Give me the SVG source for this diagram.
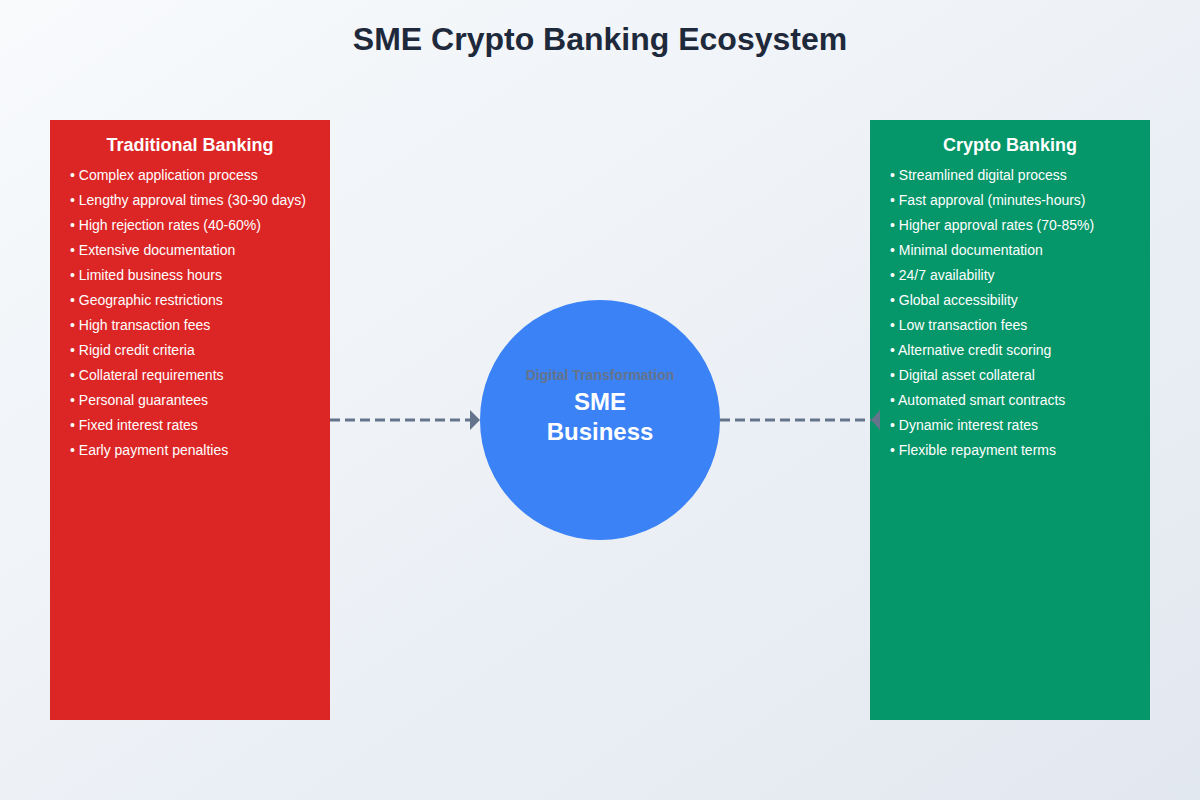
<svg xmlns="http://www.w3.org/2000/svg" width="1200" height="800" viewBox="0 0 1200 800">
<defs>
<linearGradient id="bg" x1="0" y1="0" x2="1" y2="1">
<stop offset="0" stop-color="#f8fafc"/>
<stop offset="1" stop-color="#e2e8f0"/>
</linearGradient>
<marker id="arr" viewBox="0 0 10 20" refX="10" refY="10" markerWidth="10" markerHeight="20" markerUnits="userSpaceOnUse" orient="auto">
<path d="M0,0 L10,10 L0,20 Z" fill="#64748b"/>
</marker>
<style>
text{font-family:"Liberation Sans",Arial,sans-serif}
.title{font-size:32px;font-weight:bold;fill:#1e293b}
.hdr{font-size:18px;font-weight:bold;fill:#fff}
.item{font-size:14px;fill:#fff}
.conn{stroke:#64748b;stroke-width:3;stroke-dasharray:10,5;fill:none}
</style>
</defs>
<rect width="1200" height="800" fill="url(#bg)"/>
<text class="title" x="600" y="50" text-anchor="middle">SME Crypto Banking Ecosystem</text>
<g id="traditional">
<rect x="50" y="120" width="280" height="600" fill="#dc2626"/>
<text class="hdr" x="190" y="151" text-anchor="middle">Traditional Banking</text>
<text class="item" x="70" y="180">• Complex application process</text>
<text class="item" x="70" y="205">• Lengthy approval times (30-90 days)</text>
<text class="item" x="70" y="230">• High rejection rates (40-60%)</text>
<text class="item" x="70" y="255">• Extensive documentation</text>
<text class="item" x="70" y="280">• Limited business hours</text>
<text class="item" x="70" y="305">• Geographic restrictions</text>
<text class="item" x="70" y="330">• High transaction fees</text>
<text class="item" x="70" y="355">• Rigid credit criteria</text>
<text class="item" x="70" y="380">• Collateral requirements</text>
<text class="item" x="70" y="405">• Personal guarantees</text>
<text class="item" x="70" y="430">• Fixed interest rates</text>
<text class="item" x="70" y="455">• Early payment penalties</text>
</g>
<g id="crypto">
<rect x="870" y="120" width="280" height="600" fill="#059669"/>
<text class="hdr" x="1010" y="151" text-anchor="middle">Crypto Banking</text>
<text class="item" x="890" y="180">• Streamlined digital process</text>
<text class="item" x="890" y="205">• Fast approval (minutes-hours)</text>
<text class="item" x="890" y="230">• Higher approval rates (70-85%)</text>
<text class="item" x="890" y="255">• Minimal documentation</text>
<text class="item" x="890" y="280">• 24/7 availability</text>
<text class="item" x="890" y="305">• Global accessibility</text>
<text class="item" x="890" y="330">• Low transaction fees</text>
<text class="item" x="890" y="355">• Alternative credit scoring</text>
<text class="item" x="890" y="380">• Digital asset collateral</text>
<text class="item" x="890" y="405">• Automated smart contracts</text>
<text class="item" x="890" y="430">• Dynamic interest rates</text>
<text class="item" x="890" y="455">• Flexible repayment terms</text>
</g>
<g id="sme">
<circle cx="600" cy="420" r="120" fill="#3b82f6"/>
<text x="600" y="380" text-anchor="middle" font-size="14" font-weight="bold" fill="#64748b">Digital Transformation</text>
<text x="600" y="410" text-anchor="middle" font-size="24" font-weight="bold" fill="#fff">SME</text>
<text x="600" y="440" text-anchor="middle" font-size="24" font-weight="bold" fill="#fff">Business</text>
</g>
<g id="connectors">
<line class="conn" x1="330" y1="420" x2="480" y2="420" marker-end="url(#arr)"/>
<line class="conn" x1="720" y1="420" x2="871" y2="420"/>
<path d="M880,410 L871,420 L880,430 Z" fill="#64748b"/>
</g>
</svg>
